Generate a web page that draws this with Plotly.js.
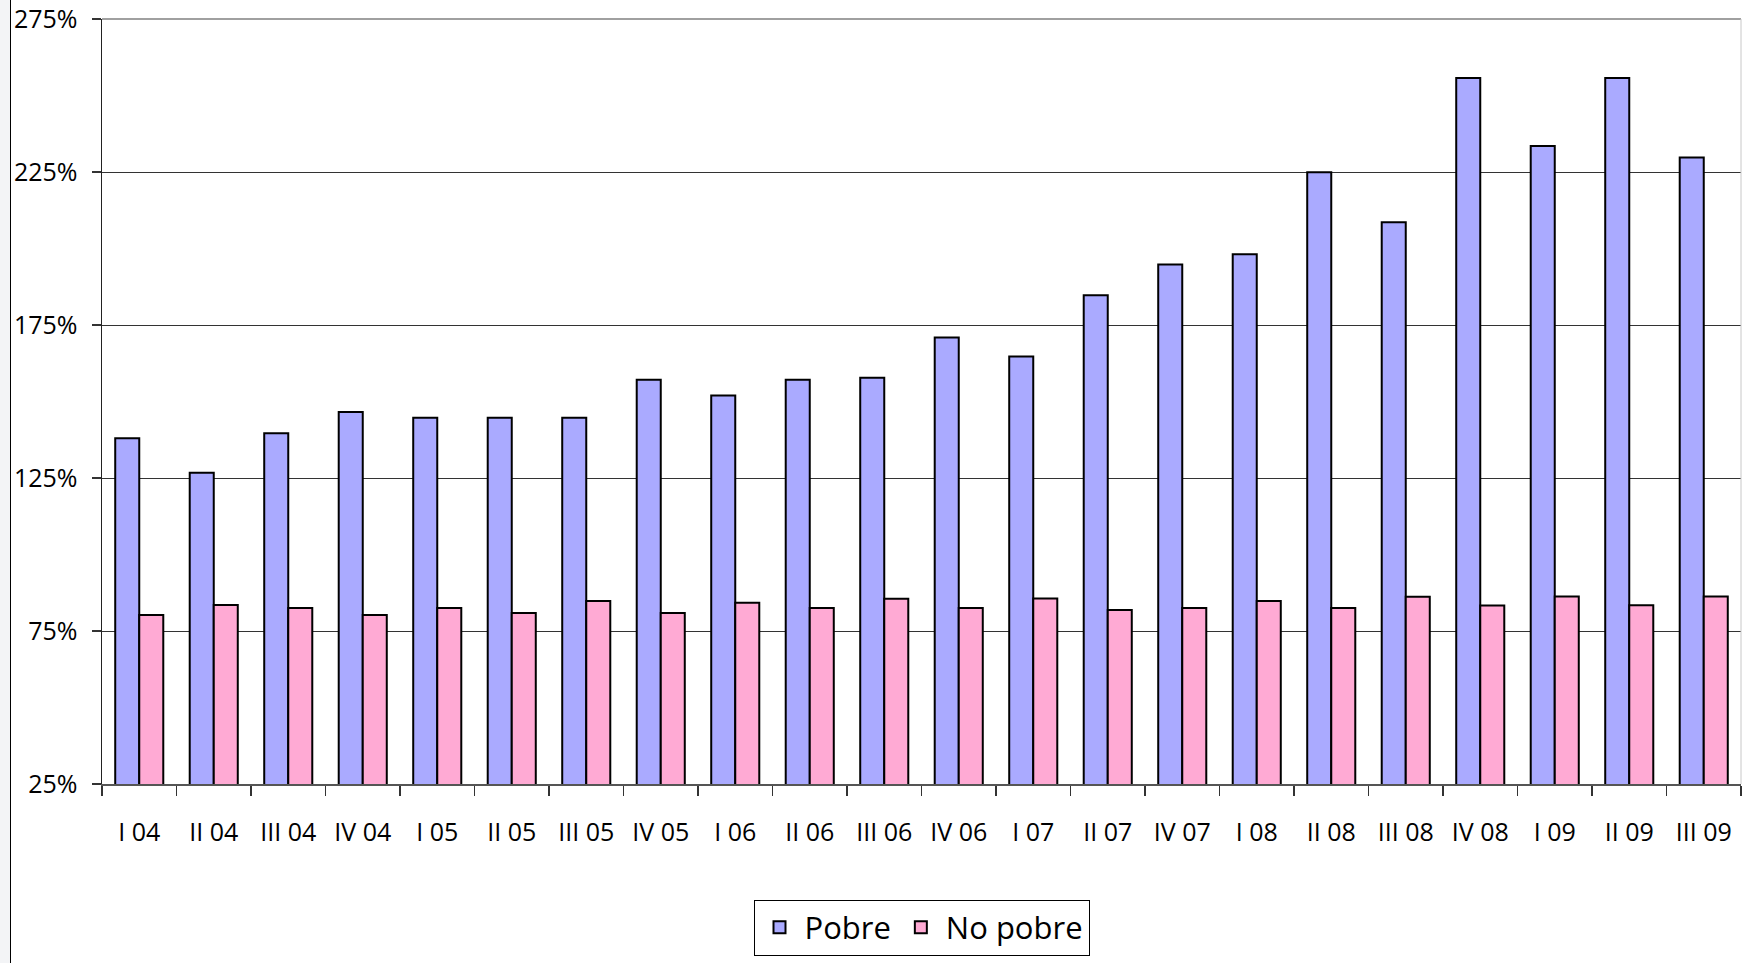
<!DOCTYPE html>
<html>
<head>
<meta charset="utf-8">
<script src="https://cdn.plot.ly/plotly-3.0.1.min.js"></script>
<style>
  html, body { margin: 0; padding: 0; background: #f3f4f6; width: 1742px; height: 963px; overflow: hidden; }
  #chart { position: absolute; left: 10px; top: 0; width: 1731px; height: 963px; border-left: 1px solid #000; background: #fff; }
</style>
</head>
<body>
<div id="chart"></div>
<script>
const categories = ["I 04","II 04","III 04","IV 04","I 05","II 05","III 05","IV 05","I 06","II 06","III 06","IV 06","I 07","II 07","IV 07","I 08","II 08","III 08","IV 08","I 09","II 09","III 09"];
const pobre = [138,126.7,139.6,146.6,144.7,144.7,144.7,157.1,152,157.1,157.8,170.9,164.7,184.7,194.8,198.1,224.9,208.6,255.7,233.5,255.7,229.7];
const noPobre = [80.2,83.5,82.5,80.2,82.5,80.9,84.8,80.9,84.2,82.5,85.5,82.5,85.6,81.9,82.5,84.8,82.5,86.2,83.3,86.3,83.4,86.3];
const yTicks = [25,75,125,175,225,275];

const fontFam = '"Open Sans", "Noto Sans", sans-serif';

const traces = [
  { type: 'bar', name: 'Pobre', x: categories, y: pobre,
    marker: { color: '#aaaaff', line: { color: '#000', width: 2 } } },
  { type: 'bar', name: 'No pobre', x: categories, y: noPobre,
    marker: { color: '#ffaad4', line: { color: '#000', width: 2 } } }
];

const layout = {
  width: 1731, height: 963,
  margin: { l: 91, r: 1, t: 19, b: 179 },
  paper_bgcolor: '#fff', plot_bgcolor: '#fff',
  barmode: 'group', bargap: 0.355, bargroupgap: 0,
  font: { family: fontFam, color: '#000', size: 25 },
  xaxis: {
    type: 'category', tickson: 'boundaries', ticks: 'outside', ticklen: 10, tickwidth: 1.5, tickcolor: '#333',
    showline: true, linecolor: '#555', linewidth: 2, showgrid: false,
    tickfont: { family: fontFam, size: 25, color: '#000' }, ticklabelstandoff: 25,
    range: [-0.5, categories.length - 0.5]
  },
  yaxis: {
    range: [25, 275], tickvals: yTicks, ticktext: yTicks.map(v => v + '%'),
    ticks: 'outside', ticklen: 9, tickwidth: 1.5, tickcolor: '#333',
    showline: true, linecolor: '#222', linewidth: 1.5,
    showgrid: true, gridcolor: '#333', gridwidth: 1, zeroline: false,
    tickfont: { family: fontFam, size: 25, color: '#000' }, ticklabelstandoff: 9
  },
  shapes: [
    { type: 'line', xref: 'paper', yref: 'paper', x0: 0, x1: 1, y0: 1, y1: 1, line: { color: '#a0a0a0', width: 2 } },
    { type: 'line', xref: 'paper', yref: 'paper', x0: 1, x1: 1, y0: 0, y1: 1, line: { color: '#c8c8c8', width: 1 } }
  ],
  showlegend: true,
  legend: {
    orientation: 'h', x: 0.5, xanchor: 'center', y: -0.151, yanchor: 'top',
    bordercolor: '#000', borderwidth: 1, bgcolor: '#fff', itemwidth: 40,
    font: { family: fontFam, size: 31, color: '#000' }
  }
};

Plotly.newPlot('chart', traces, layout, { displayModeBar: false, staticPlot: true });
</script>
</body>
</html>
